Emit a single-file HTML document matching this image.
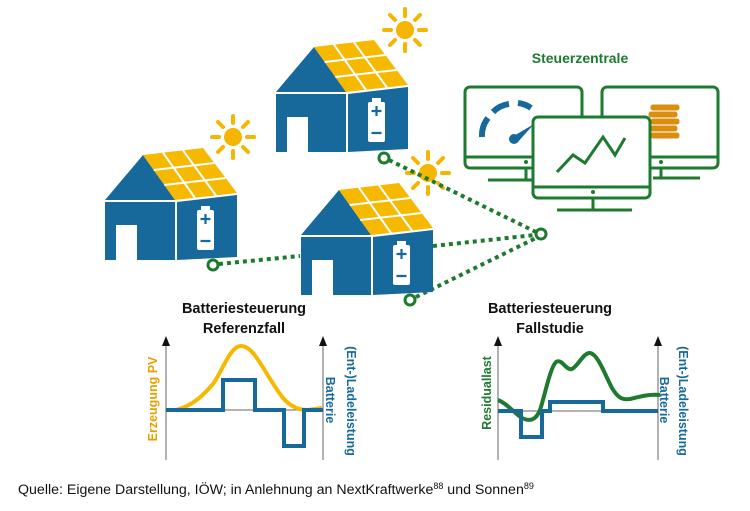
<!DOCTYPE html>
<html><head><meta charset="utf-8"><style>
html,body{margin:0;padding:0;background:#fff;}
svg{display:block;}
text{font-family:"Liberation Sans",sans-serif;}
</style></head><body>
<svg width="750" height="511" viewBox="0 0 750 511" xmlns="http://www.w3.org/2000/svg">
<defs>
<g id="house">
  <polygon points="105,200 143,155 175,200" fill="#17699c"/>
  <rect x="105" y="202" width="70" height="58" fill="#17699c"/>
  <polygon points="177,202 237,195 237,257 177,260" fill="#17699c"/>
  <polygon points="175,200 143,155 203,148 237,193" fill="#f6b900"/>
  <g stroke="#fff" stroke-width="2">
    <line x1="153.7" y1="170" x2="214.3" y2="163"/>
    <line x1="164.3" y1="185" x2="225.7" y2="178"/>
    <line x1="163" y1="152.7" x2="195" y2="198"/>
    <line x1="183" y1="150.3" x2="216" y2="195.5"/>
  </g>
  <rect x="116" y="225" width="21" height="35" fill="#fff"/>
  <rect x="197" y="210" width="17" height="40" rx="2" fill="#fff"/>
  <rect x="201" y="206" width="9" height="5" fill="#fff"/>
  <path d="M205.5 214v10M200.5 219h10M200.5 241h10" stroke="#17699c" stroke-width="2.2"/>
</g>
<g id="sun">
  <circle cx="0" cy="0" r="9" fill="#f6b500"/>
  <g stroke="#f6b500" stroke-width="4" stroke-linecap="round">
    <line x1="0" y1="-14" x2="0" y2="-21"/><line x1="0" y1="14" x2="0" y2="21"/>
    <line x1="-14" y1="0" x2="-21" y2="0"/><line x1="14" y1="0" x2="21" y2="0"/>
    <line x1="10" y1="-10" x2="15" y2="-15"/><line x1="-10" y1="-10" x2="-15" y2="-15"/>
    <line x1="10" y1="10" x2="15" y2="15"/><line x1="-10" y1="10" x2="-15" y2="15"/>
  </g>
</g>
</defs>

<use href="#sun" x="233" y="137"/>
<use href="#sun" x="405" y="30"/>
<use href="#house" x="0" y="0"/>
<use href="#house" x="171" y="-108"/>

<use href="#sun" x="428" y="173"/>
<!-- dotted connectors -->
<g stroke="#1d7a2f" stroke-width="4" stroke-dasharray="4,4" fill="none">
  <line x1="219" y1="264" x2="300" y2="256"/>
  <line x1="389" y1="160" x2="536" y2="232"/>
  <line x1="433" y1="246" x2="535" y2="235"/>
  <line x1="416" y1="297" x2="536" y2="238"/>
</g>
<use href="#house" x="196" y="35"/>
<g fill="#fff" stroke="#1d7a2f" stroke-width="3">
  <circle cx="213" cy="265" r="5"/>
  <circle cx="384" cy="158" r="5"/>
  <circle cx="410" cy="300" r="5"/>
  <circle cx="541" cy="234" r="5"/>
</g>

<!-- Steuerzentrale -->
<text x="580" y="63" text-anchor="middle" font-size="14" font-weight="bold" fill="#1d7a2f">Steuerzentrale</text>
<g stroke="#1d7a2f" stroke-width="3" fill="#fff">
  <rect x="465" y="87" width="117" height="81" rx="5"/>
  <line x1="465" y1="157" x2="582" y2="157"/>
  <line x1="526" y1="168" x2="526" y2="180"/>
  <line x1="488" y1="180" x2="537" y2="180"/>
  <rect x="602" y="87" width="116" height="81" rx="5"/>
  <line x1="602" y1="157" x2="718" y2="157"/>
  <line x1="661" y1="168" x2="661" y2="178"/>
  <line x1="653" y1="178" x2="700" y2="178"/>
</g>
<!-- gauge -->
<g fill="none" stroke="#17699c" stroke-width="6">
  <path d="M482 137 A28 28 0 0 1 488 118"/>
  <path d="M493 112 A28 28 0 0 1 509 104"/>
  <path d="M518 103 A28 28 0 0 1 531 108"/>
</g>
<path d="M512 137 L534 124 L517 143 Z" fill="#17699c"/>
<circle cx="514" cy="139" r="5" fill="#17699c"/>
<!-- coins -->
<g fill="#d98e10" stroke="#fff" stroke-width="1">
  <rect x="650" y="104" width="30" height="7" rx="3"/>
  <rect x="648" y="111" width="30" height="7" rx="3"/>
  <rect x="650" y="118" width="30" height="7" rx="3"/>
  <rect x="648" y="125" width="30" height="7" rx="3"/>
  <rect x="650" y="132" width="30" height="7" rx="3"/>
</g>
<g stroke="#1d7a2f" stroke-width="3" fill="#fff">
  <rect x="533" y="117" width="117" height="81" rx="5"/>
  <line x1="533" y1="187" x2="650" y2="187"/>
  <line x1="593" y1="198" x2="593" y2="210"/>
  <line x1="557" y1="210" x2="632" y2="210"/>
</g>
<circle cx="593" cy="192" r="2" fill="#1d7a2f"/>
<circle cx="526" cy="162" r="2" fill="#1d7a2f"/>
<circle cx="661" cy="162" r="2" fill="#1d7a2f"/>
<polyline points="557,172 573,155 585,163 603,137 615,155 625,138" fill="none" stroke="#1d7a2f" stroke-width="3"/>

<!-- titles -->
<g font-size="14.5" font-weight="bold" fill="#111" text-anchor="middle">
  <text x="244" y="313">Batteriesteuerung</text>
  <text x="244" y="333">Referenzfall</text>
  <text x="550" y="313">Batteriesteuerung</text>
  <text x="550" y="333">Fallstudie</text>
</g>

<!-- axes -->
<g stroke="#666" stroke-width="1">
  <line x1="166" y1="344" x2="166" y2="460"/>
  <line x1="323" y1="344" x2="323" y2="460"/>
  <line x1="166" y1="410" x2="323" y2="410"/>
  <line x1="498" y1="344" x2="498" y2="460"/>
  <line x1="658" y1="344" x2="658" y2="460"/>
  <line x1="498" y1="411" x2="658" y2="411"/>
</g>
<g fill="#111">
  <polygon points="162,346 166,336 170,346"/>
  <polygon points="319,346 323,336 327,346"/>
  <polygon points="494,346 498,336 502,346"/>
  <polygon points="654,346 658,336 662,346"/>
</g>
<path d="M176 410 C195 405 205 393 213 384 C222 372 230 346 241 346 C255 346 265 375 283 398 C292 408 300 410 308 410 L322 408" fill="none" stroke="#f6b900" stroke-width="4"/>
<polyline points="166,410 223,410 223,380 255,380 255,410 284,410 284,446 304,446 304,410 323,410" fill="none" stroke="#17699c" stroke-width="4"/>
<text transform="translate(157,399) rotate(-90)" text-anchor="middle" font-size="12.5" font-weight="bold" fill="#e8a000">Erzeugung PV</text>
<text transform="translate(326,400) rotate(90)" text-anchor="middle" font-size="12.5" font-weight="bold" fill="#17699c">Batterie</text>
<text transform="translate(347,401) rotate(90)" text-anchor="middle" font-size="12.5" font-weight="bold" fill="#17699c">(Ent-)Ladeleistung</text>

<!-- right chart -->
<path d="M498 400 C508 404 515 414 522 418 C530 422 536 420 540 410 C545 395 550 368 556 362 C562 358 566 371 572 369 C578 366 584 352 590 353 C598 354 605 375 612 388 C618 398 622 400 630 399 C642 396 650 394 660 395" fill="none" stroke="#1d7a2f" stroke-width="4"/>
<polyline points="498,411 521,411 521,437 542,437 542,411 550,411 550,402 603,402 603,411 658,411" fill="none" stroke="#17699c" stroke-width="4"/>
<text transform="translate(491,393) rotate(-90)" text-anchor="middle" font-size="12.5" font-weight="bold" fill="#1d7a2f">Residuallast</text>
<text transform="translate(660,400) rotate(90)" text-anchor="middle" font-size="12.5" font-weight="bold" fill="#17699c">Batterie</text>
<text transform="translate(679,401) rotate(90)" text-anchor="middle" font-size="12.5" font-weight="bold" fill="#17699c">(Ent-)Ladeleistung</text>

<!-- source -->
<text x="18" y="494" font-size="14.2" fill="#111">Quelle: Eigene Darstellung, IÖW; in Anlehnung an NextKraftwerke<tspan font-size="9" dy="-5">88</tspan><tspan dy="5"> und Sonnen</tspan><tspan font-size="9" dy="-5">89</tspan></text>
</svg>
</body></html>
